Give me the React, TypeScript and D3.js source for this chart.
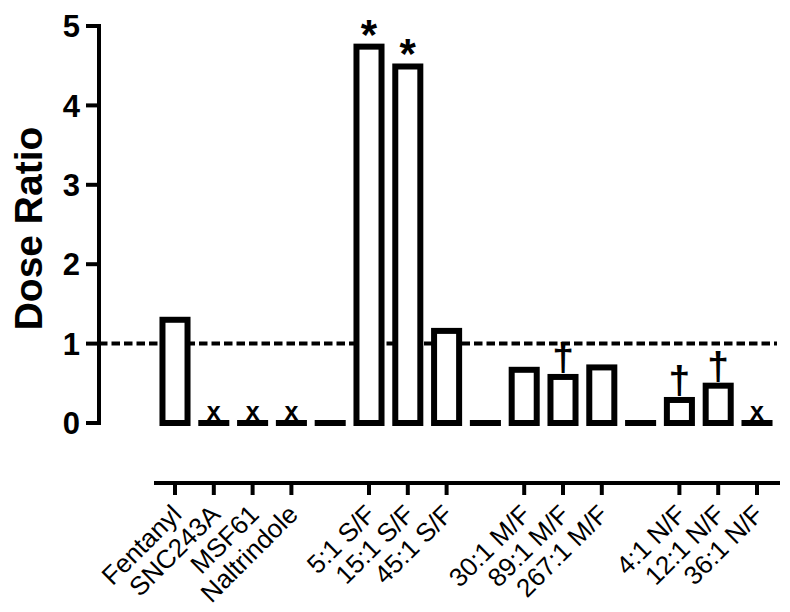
import React from "react";
import * as d3 from "d3";

// categories ("" = spacer slot between groups)
const categories = [
  "Fentanyl", "SNC243A", "MSF61", "Naltrindole", "",
  "5:1 S/F", "15:1 S/F", "45:1 S/F", "",
  "30:1 M/F", "89:1 M/F", "267:1 M/F", "",
  "4:1 N/F", "12:1 N/F", "36:1 N/F",
];
const doseRatio = [1.3, 0, 0, 0, 0, 4.74, 4.49, 1.16, 0, 0.67, 0.58, 0.7, 0, 0.29, 0.47, 0];
const marks = ["", "x", "x", "x", "", "*", "*", "", "", "", "†", "", "", "†", "†", "x"];
const yTicks = [0, 1, 2, 3, 4, 5];
const refLine = 1;

const W = 790;
const H = 612;
const FONT = "Arial, 'Liberation Sans', Helvetica, sans-serif";

export default function App() {
  const keys = categories.map((c, i) => `${i}:${c}`);

  const x = d3
    .scaleBand()
    .domain(keys)
    .range([155.6, 776.4])
    .paddingInner(0.2)
    .paddingOuter(0.1);

  const y = d3.scaleLinear().domain([0, 5]).range([423, 26]);

  const sw = 6; // bar outline width
  const axisY = 483;

  return (
    <svg
      width={W}
      height={H}
      style={{ position: "absolute", left: 0, top: 0, background: "#fff" }}
      fontFamily={FONT}
    >
      {/* reference line at dose ratio = 1 */}
      <line
        x1={99}
        x2={777}
        y1={y(refLine)}
        y2={y(refLine)}
        stroke="#000"
        strokeWidth={4}
        strokeDasharray="8.5,4"
      />

      {/* bars */}
      {doseRatio.map((v, i) => {
        const bx = x(keys[i])!;
        const bw = x.bandwidth();
        if (v === 0) {
          return (
            <rect key={i} x={bx} y={y(0) - sw / 2} width={bw} height={sw} fill="#000" />
          );
        }
        return (
          <rect
            key={i}
            x={bx + sw / 2}
            y={y(v)}
            width={bw - sw}
            height={y(0) - y(v)}
            fill="#fff"
            stroke="#000"
            strokeWidth={sw}
          />
        );
      })}

      {/* significance marks */}
      {marks.map((m, i) => {
        if (!m) return null;
        const cx = x(keys[i])! + x.bandwidth() / 2;
        const top = y(doseRatio[i]) - sw / 2;
        if (m === "x") {
          return (
            <text key={i} x={cx} y={top} textAnchor="middle" fontSize={25} fontWeight="bold">
              x
            </text>
          );
        }
        if (m === "*") {
          return (
            <text key={i} x={cx} y={top + 5} textAnchor="middle" fontSize={42} fontWeight="bold">
              *
            </text>
          );
        }
        return (
          <text key={i} x={cx} y={top - 4} textAnchor="middle" fontSize={39} fontWeight="bold">
            {m}
          </text>
        );
      })}

      {/* y axis */}
      <line x1={99} x2={99} y1={y(5) - 2} y2={y(0) + 2} stroke="#000" strokeWidth={4} />
      {yTicks.map((t) => (
        <g key={t}>
          <line x1={86} x2={99} y1={y(t)} y2={y(t)} stroke="#000" strokeWidth={4} />
          <text
            x={80}
            y={y(t)}
            dy="0.36em"
            textAnchor="end"
            fontSize={31}
            fontWeight="bold"
          >
            {t}
          </text>
        </g>
      ))}
      <text
        transform={`translate(42,${(y(0) + y(5)) / 2 + 4}) rotate(-90)`}
        textAnchor="middle"
        fontSize={39}
        fontWeight="bold"
      >
        Dose Ratio
      </text>

      {/* x axis */}
      <line x1={154} x2={780} y1={axisY} y2={axisY} stroke="#000" strokeWidth={4} />
      {categories.map((c, i) => {
        if (!c) return null;
        const cx = x(keys[i])! + x.bandwidth() / 2;
        return (
          <g key={i}>
            <line x1={cx} x2={cx} y1={axisY} y2={axisY + 12} stroke="#000" strokeWidth={4} />
            <text
              transform={`translate(${cx + 8},${axisY + 33}) rotate(-45)`}
              textAnchor="end"
              fontSize={26}
            >
              {c}
            </text>
          </g>
        );
      })}
    </svg>
  );
}
